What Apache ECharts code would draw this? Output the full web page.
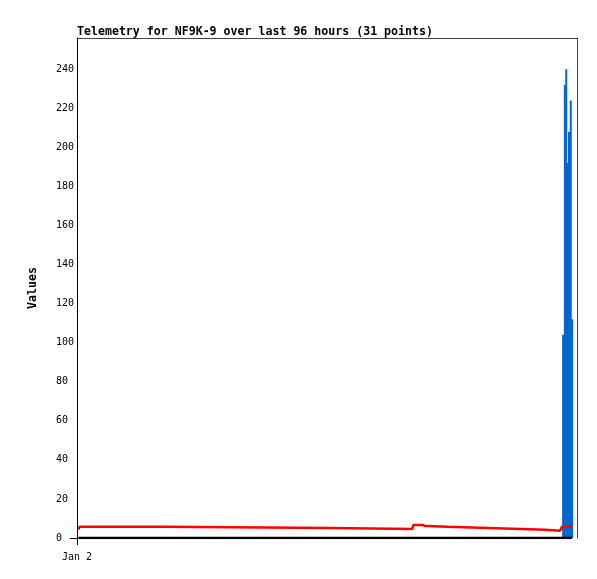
<!DOCTYPE html>
<html><head><meta charset="utf-8">
<script src="https://cdn.jsdelivr.net/npm/echarts@6/dist/echarts.min.js"></script>
<style>html,body{margin:0;padding:0;background:#fff}#c{width:597px;height:579px}</style>
</head><body><div id="c"></div>
<script>
// Title and axis texts
const titleText = 'Telemetry for NF9K-9 over last 96 hours (31 points)';
const yAxisName = 'Values';
const xTickValues = [0];            // minutes since Jan 2 00:00
const xTickLabels = ['Jan 2'];
const yTickValues = [0, 20, 40, 60, 80, 100, 120, 140, 160, 180, 200, 220, 240];

// Sample times (minutes since Jan 2 00:00)
const minutes = [4, 7, 253, 256, 729, 732, 965, 969, 996, 1002, 1011, 1014, 1066, 1068,
                 1161, 1164, 1253, 1256, 1348, 1351, 1391, 1397, 1400, 1405, 1409, 1413,
                 1417, 1422, 1426, 1428];
// Channel values
const redValues = [4.3, 5.7, 5.7, 5.1, 5.1, 4.6, 4.6, 6.7, 6.7, 6.1, 6.1, 5.7, 5.7, 5.2,
                   5.2, 4.7, 4.7, 4.2, 4.2, 3.7, 3.7, 5.8, 5.8, 5.8, 5.8, 5.8,
                   5.8, 5.8, 5.8, 5.8];
const blueValues = [0, 0, 0, 0, 0, 0, 0, 0, 0, 0, 0, 0, 0, 0,
                    0, 0, 0, 0, 0, 0, 0, 0, 104, 232, 240, 192,
                    208, 224, 112, 0];
const blackValues = [0, 0, 0, 0, 0, 0, 0, 0, 0, 0, 0, 0, 0, 0,
                     0, 0, 0, 0, 0, 0, 0, 0, 0, 0, 0, 0,
                     0, 0, 0, 0];

const pair = vals => minutes.map((m, i) => [m, vals[i]]);
const mono = 'DejaVu Sans Mono';

const chart = echarts.init(document.getElementById('c'), null, {renderer: 'canvas'});
chart.setOption({
  animation: false,
  backgroundColor: '#fff',
  title: {
    text: titleText, left: 77, top: 26, padding: 0,
    textStyle: {fontFamily: mono, fontWeight: 'bold', fontSize: 11.6, color: '#000'}
  },
  grid: {left: 77, right: 20, top: 38, bottom: 41, containLabel: false},
  xAxis: [{
    type: 'value', min: 0, max: 1440, position: 'bottom',
    axisLine: {show: false},
    axisTick: {show: true, customValues: xTickValues, length: 7, lineStyle: {color: '#000', width: 1}},
    axisLabel: {
      customValues: xTickValues, margin: 14, fontFamily: mono, fontSize: 10, color: '#000',
      formatter: v => { const i = xTickValues.indexOf(v); return i >= 0 ? xTickLabels[i] : ''; }
    },
    splitLine: {show: false}
  }, {
    type: 'value', min: 0, max: 1440, position: 'top',
    axisLine: {show: true, onZero: false, lineStyle: {color: '#444', width: 1}},
    axisTick: {show: false}, axisLabel: {show: false}, splitLine: {show: false}
  }],
  yAxis: [{
    type: 'value', min: 0, max: 256, position: 'left',
    name: yAxisName, nameLocation: 'middle', nameGap: 38,
    nameTextStyle: {fontFamily: mono, fontWeight: 'bold', fontSize: 11.6, color: '#000'},
    axisLine: {show: true, onZero: false, lineStyle: {color: '#000', width: 1}},
    axisTick: {show: true, customValues: [0], length: 7, lineStyle: {color: '#000', width: 1}},
    axisLabel: {customValues: yTickValues, align: 'left', margin: 21, fontFamily: mono, fontSize: 10, color: '#000'},
    splitLine: {show: false}
  }, {
    type: 'value', min: 0, max: 256, position: 'right',
    axisLine: {show: true, onZero: false, lineStyle: {color: '#444', width: 1}},
    axisTick: {show: false}, axisLabel: {show: false}, splitLine: {show: false}
  }],
  series: [{
    type: 'bar', name: 'blue', data: pair(blueValues), barWidth: 2,
    itemStyle: {color: '#0066cc'}, z: 1
  }, {
    type: 'line', name: 'red', data: pair(redValues), showSymbol: false,
    lineStyle: {color: '#ff0000', width: 2.5}, z: 3
  }, {
    type: 'line', name: 'black', data: pair(blackValues), showSymbol: false,
    lineStyle: {color: '#000', width: 2.5}, z: 4
  }]
});
</script>
</body></html>
